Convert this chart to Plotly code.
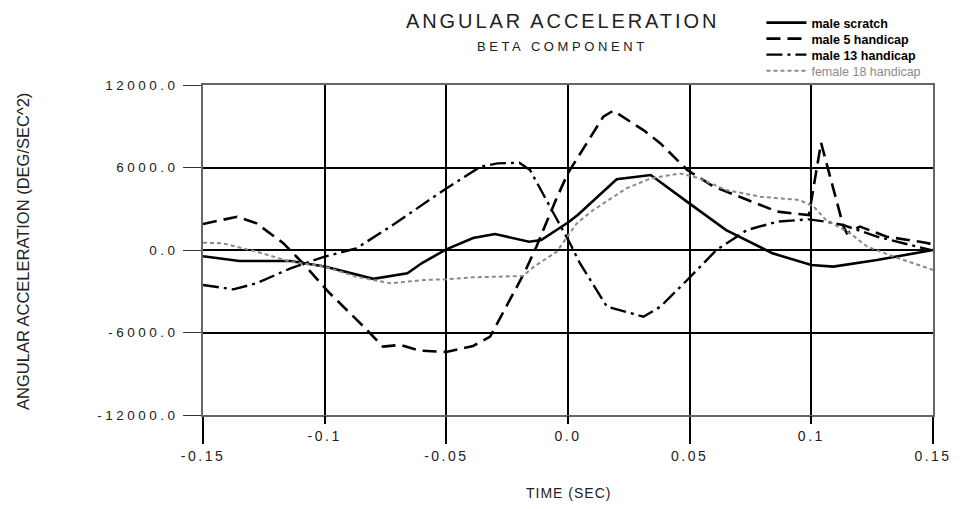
import plotly.graph_objects as go

# ---------------- data ----------------
male_scratch_t = [-0.150, -0.135, -0.114, -0.100, -0.080, -0.066, -0.060, -0.050, -0.039, -0.030,
                  -0.016, -0.011, 0.000, 0.004, 0.020, 0.034, 0.049, 0.065, 0.084, 0.100,
                  0.109, 0.127, 0.150]
male_scratch = [-450, -800, -800, -1200, -2100, -1700, -950, 50, 870, 1160,
                600, 720, 2000, 2540, 5140, 5450, 3500, 1450, -240, -1090,
                -1210, -730, 0]

male5_t = [-0.150, -0.136, -0.128, -0.117, -0.109, -0.098, -0.084, -0.076, -0.069, -0.061,
           -0.050, -0.039, -0.032, -0.024, -0.018, -0.013, -0.005, 0.000, 0.0145, 0.0186,
           0.031, 0.038, 0.049, 0.060, 0.0735, 0.086, 0.099, 0.1040, 0.1132, 0.1146,
           0.120, 0.131, 0.147, 0.150]
male5 = [1890, 2420, 1940, 500, -950, -3130, -5570, -7030, -6900, -7320,
         -7420, -6980, -6300, -3640, -1680, 240, 3640, 5600, 9690, 10130,
         8720, 7750, 5820, 4600, 3640, 2790, 2540, 7800, 1700, 1210,
         1700, 970, 530, 400]

male13_t = [-0.150, -0.1375, -0.128, -0.114, -0.100, -0.087, -0.073, -0.059, -0.050, -0.036,
            -0.029, -0.020, -0.0156, -0.0074, 0.0008, 0.005, 0.0132, 0.016, 0.031, 0.038,
            0.049, 0.061, 0.0735, 0.086, 0.099, 0.106, 0.113, 0.127, 0.149]
male13 = [-2540, -2860, -2420, -1330, -480, 120, 1700, 3390, 4480, 6060,
          6300, 6350, 5820, 3150, 490, -1000, -3390, -4120, -4850, -4120,
          -2180, 0, 1450, 2060, 2230, 2060, 1820, 970, 0]

female18_t = [-0.150, -0.142, -0.128, -0.114, -0.100, -0.087, -0.073, -0.059, -0.050, -0.039,
              -0.0185, -0.014, -0.0046, 0.0036, 0.0104, 0.024, 0.034, 0.046, 0.054, 0.065,
              0.079, 0.095, 0.101, 0.106, 0.116, 0.123, 0.134, 0.150]
female18 = [530, 490, -120, -850, -1210, -1940, -2420, -2180, -2130, -1990,
            -1890, -1210, -120, 1940, 2910, 4480, 5210, 5570, 5210, 4360,
            3880, 3640, 3150, 2180, 1210, 240, -490, -1450]

series_names = ["male scratch", "male 5 handicap", "male 13 handicap", "female 18 handicap"]

x_ticks_low = [-0.15, -0.05, 0.05, 0.15]
x_labels_low = ["-0.15", "-0.05", "0.05", "0.15"]
x_ticks_high = [-0.1, 0.0, 0.1]
x_labels_high = ["-0.1", "0.0", "0.1"]
y_ticks = [-12000, -6000, 0, 6000, 12000]
y_labels = ["-12000.0", "-6000.0", "0.0", "6000.0", "12000.0"]

title_text = "ANGULAR ACCELERATION"
subtitle_text = "BETA COMPONENT"
x_title = "TIME (SEC)"
y_title = "ANGULAR ACCELERATION (DEG/SEC^2)"

FONT = "Liberation Sans, Arial, sans-serif"


def sp(text, px):
    return f'<span style="letter-spacing:{px}px">{text}</span>'


fig = go.Figure()

styles = [
    dict(color="black", width=2.6, dash="solid"),
    dict(color="black", width=2.6, dash="14px,7px"),
    dict(color="black", width=2.4, dash="16px,5px,3px,5px"),
    dict(color="#8a8a8a", width=2.0, dash="4px,3px"),
]
data_sets = [(male_scratch_t, male_scratch), (male5_t, male5),
             (male13_t, male13), (female18_t, female18)]
legend_names = [f"<b>{series_names[0]}</b>", f"<b>{series_names[1]}</b>",
                f"<b>{series_names[2]}</b>",
                f'<span style="color:#8a8a8a">{series_names[3]}</span>']
legend_ids = ["legend", "legend2", "legend3", "legend4"]

for (t, v), st, nm, lg in zip(data_sets, styles, legend_names, legend_ids):
    fig.add_trace(go.Scatter(x=t, y=v, mode="lines", name=nm, line=st,
                             xaxis="x", yaxis="y", legend=lg))

# invisible trace on second x axis so it renders
fig.add_trace(go.Scatter(x=[x_ticks_high[0]], y=[0], mode="markers",
                         marker=dict(opacity=0), xaxis="x2", yaxis="y",
                         showlegend=False, hoverinfo="skip"))

x_range = [x_ticks_low[0], x_ticks_low[-1]]
y_range = [y_ticks[0], y_ticks[-1]]

common_x = dict(range=x_range, showgrid=True, gridcolor="black", gridwidth=1.5,
                zeroline=False, ticks="outside", tickcolor="black", tickwidth=1.5,
                tickfont=dict(family=FONT, size=14, color="#222"))

# one legend per row so the rows can sit as close together as in the reference
PLOT_TOP, PLOT_H = 77, 330
row_tops = [0, 16, 32, 48]
legends = {}
for lg, top in zip(legend_ids, row_tops):
    legends[lg] = dict(x=0.765, y=1 + (PLOT_TOP - top) / PLOT_H,
                       xanchor="left", yanchor="top",
                       bgcolor="rgba(0,0,0,0)",
                       font=dict(family=FONT, size=12.5, color="black"),
                       itemwidth=40)

# page body adds an 8px offset; compensate so the plot sits at 203..933 x 85..415
fig.update_layout(
    width=954, height=501,
    margin=dict(l=195, r=29, t=PLOT_TOP, b=94, autoexpand=False),
    paper_bgcolor="white", plot_bgcolor="white",
    font=dict(family=FONT, color="#222"),
    xaxis=dict(**common_x, tickmode="array", tickvals=x_ticks_low,
               ticktext=[sp(s, 2.5) for s in x_labels_low], ticklen=27,
               showline=True, linecolor="#666", linewidth=1.5, mirror=True),
    xaxis2=dict(**common_x, overlaying="x", anchor="y", side="bottom",
                tickmode="array", tickvals=x_ticks_high,
                ticktext=[sp(s, 2.5) for s in x_labels_high], ticklen=8),
    yaxis=dict(range=y_range, tickmode="array", tickvals=y_ticks,
               ticktext=[sp(s, 3.5) for s in y_labels],
               showgrid=True, gridcolor="black", gridwidth=1.5, zeroline=False,
               ticks="outside", ticklen=18, tickcolor="#333", tickwidth=1.2,
               ticklabelstandoff=2,
               tickfont=dict(family=FONT, size=13.5, color="#222"),
               showline=True, linecolor="#666", linewidth=1.5, mirror=True),
    showlegend=True,
    **legends,
)

fig.add_annotation(text=sp(title_text, 2.9), xref="paper", yref="paper",
                   x=0.492, y=1.194, xanchor="center", yanchor="middle",
                   showarrow=False, font=dict(family=FONT, size=20, color="#222"))
fig.add_annotation(text=sp(subtitle_text, 3.6), xref="paper", yref="paper",
                   x=0.492, y=1.118, xanchor="center", yanchor="middle",
                   showarrow=False, font=dict(family=FONT, size=13, color="#222"))
fig.add_annotation(text=sp(x_title, 1), xref="paper", yref="paper",
                   x=0.5, y=-0.236, xanchor="center", yanchor="middle",
                   showarrow=False, font=dict(family=FONT, size=14, color="#222"))
fig.add_annotation(text=y_title, xref="paper", yref="paper",
                   x=-0.2466, y=0.497, xanchor="center", yanchor="middle",
                   textangle=-90, showarrow=False,
                   font=dict(family=FONT, size=16.5, color="#222"))

fig.write_html("out.html")
